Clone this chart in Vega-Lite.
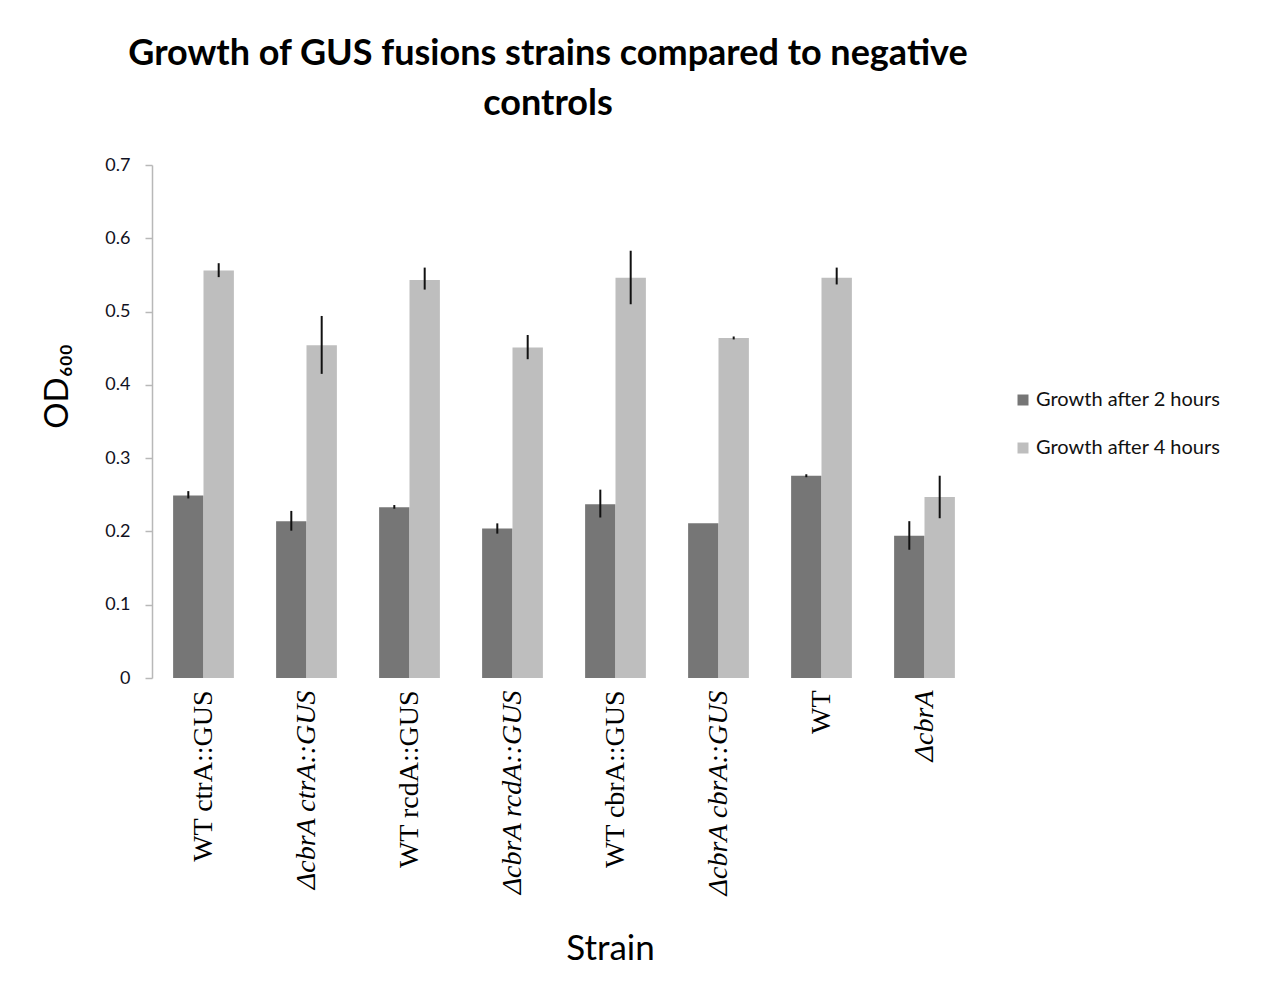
{
  "$schema": "https://vega.github.io/schema/vega-lite/v6.json",
  "autosize": {"type": "none"},
  "padding": {"left": 152, "top": 165, "right": 288, "bottom": 313},
  "width": 824,
  "height": 513,
  "background": "white",
  "title": {
    "text": ["Growth of GUS fusions strains compared to negative", "controls"],
    "font": "Lato",
    "fontWeight": "bold",
    "fontSize": 36,
    "lineHeight": 50,
    "color": "#000000",
    "anchor": "middle",
    "dx": -16,
    "offset": 33
  },
  "data": {
    "values": [
      {"strain": "WT ctrA::GUS", "series": "Growth after 2 hours", "od": 0.249, "lo": 0.245, "hi": 0.255},
      {"strain": "WT ctrA::GUS", "series": "Growth after 4 hours", "od": 0.556, "lo": 0.547, "hi": 0.566},
      {"strain": "ΔcbrA ctrA::GUS", "series": "Growth after 2 hours", "od": 0.214, "lo": 0.201, "hi": 0.228},
      {"strain": "ΔcbrA ctrA::GUS", "series": "Growth after 4 hours", "od": 0.454, "lo": 0.415, "hi": 0.494},
      {"strain": "WT rcdA::GUS", "series": "Growth after 2 hours", "od": 0.233, "lo": 0.231, "hi": 0.236},
      {"strain": "WT rcdA::GUS", "series": "Growth after 4 hours", "od": 0.543, "lo": 0.53, "hi": 0.56},
      {"strain": "ΔcbrA rcdA::GUS", "series": "Growth after 2 hours", "od": 0.204, "lo": 0.197, "hi": 0.211},
      {"strain": "ΔcbrA rcdA::GUS", "series": "Growth after 4 hours", "od": 0.451, "lo": 0.435, "hi": 0.468},
      {"strain": "WT cbrA::GUS", "series": "Growth after 2 hours", "od": 0.237, "lo": 0.219, "hi": 0.257},
      {"strain": "WT cbrA::GUS", "series": "Growth after 4 hours", "od": 0.546, "lo": 0.51, "hi": 0.583},
      {"strain": "ΔcbrA cbrA::GUS", "series": "Growth after 2 hours", "od": 0.211, "lo": 0.211, "hi": 0.211},
      {"strain": "ΔcbrA cbrA::GUS", "series": "Growth after 4 hours", "od": 0.464, "lo": 0.462, "hi": 0.466},
      {"strain": "WT", "series": "Growth after 2 hours", "od": 0.276, "lo": 0.274, "hi": 0.278},
      {"strain": "WT", "series": "Growth after 4 hours", "od": 0.546, "lo": 0.537, "hi": 0.56},
      {"strain": "ΔcbrA", "series": "Growth after 2 hours", "od": 0.194, "lo": 0.175, "hi": 0.214},
      {"strain": "ΔcbrA", "series": "Growth after 4 hours", "od": 0.247, "lo": 0.218, "hi": 0.276}
    ]
  },
  "encoding": {
    "x": {
      "field": "strain",
      "type": "nominal",
      "sort": null,
      "scale": {"paddingInner": 0.41, "paddingOuter": 0.205},
      "axis": {
        "title": "Strain",
        "titleFont": "Lato",
        "titleFontSize": 35,
        "titleFontWeight": "normal",
        "titleColor": "#000000",
        "titleX": 458,
        "titleY": 281,
        "titleAlign": "center",
        "titleBaseline": "alphabetic",
        "domain": false,
        "ticks": false,
        "labelAngle": -90,
        "labelPadding": 12,
        "labelFont": "Liberation Serif",
        "labelFontSize": 28,
        "labelColor": "#000000",
        "labelFontStyle": {"condition": {"test": "indexof(datum.value, 'Δ') == 0", "value": "italic"}, "value": "normal"},
        "labelLimit": 400
      }
    },
    "xOffset": {"field": "series", "type": "nominal", "sort": null, "scale": {"paddingInner": 0, "paddingOuter": 0}}
  },
  "layer": [
    {
      "mark": {"type": "bar"},
      "encoding": {
        "y": {
          "field": "od",
          "type": "quantitative",
          "scale": {"domain": [0, 0.7], "nice": false},
          "axis": {
            "title": "OD₆₀₀",
            "titleFont": "Lato",
            "titleFontSize": 33,
            "titleFontWeight": "normal",
            "titleColor": "#000000",
            "titleX": -95,
            "titleY": 221,
            "titleAlign": "center",
            "titleBaseline": "middle",
            "values": [0, 0.1, 0.2, 0.3, 0.4, 0.5, 0.6, 0.7],
            "format": "~g",
            "grid": false,
            "domainColor": "#b8b8b8",
            "domainWidth": 1.5,
            "tickColor": "#b8b8b8",
            "tickWidth": 1.5,
            "tickSize": 7,
            "labelPadding": 15,
            "labelFont": "Lato",
            "labelFontSize": 18,
            "labelColor": "#111122"
          }
        },
        "color": {
          "field": "series",
          "type": "nominal",
          "sort": null,
          "scale": {"range": ["#767676", "#bebebe"]},
          "legend": {
            "title": null,
            "orient": "none",
            "legendX": 861,
            "legendY": 225,
            "symbolType": "square",
            "symbolSize": 121,
            "symbolStrokeWidth": 0,
            "labelFont": "Lato",
            "labelFontSize": 20,
            "labelColor": "#111111",
            "labelOffset": 3,
            "rowPadding": 28,
            "labelLimit": 300
          }
        }
      }
    },
    {
      "mark": {"type": "rule", "color": "#111111", "strokeWidth": 2},
      "encoding": {
        "y": {"field": "lo", "type": "quantitative"},
        "y2": {"field": "hi"}
      }
    }
  ],
  "config": {
    "font": "Lato",
    "view": {"stroke": null}
  }
}
